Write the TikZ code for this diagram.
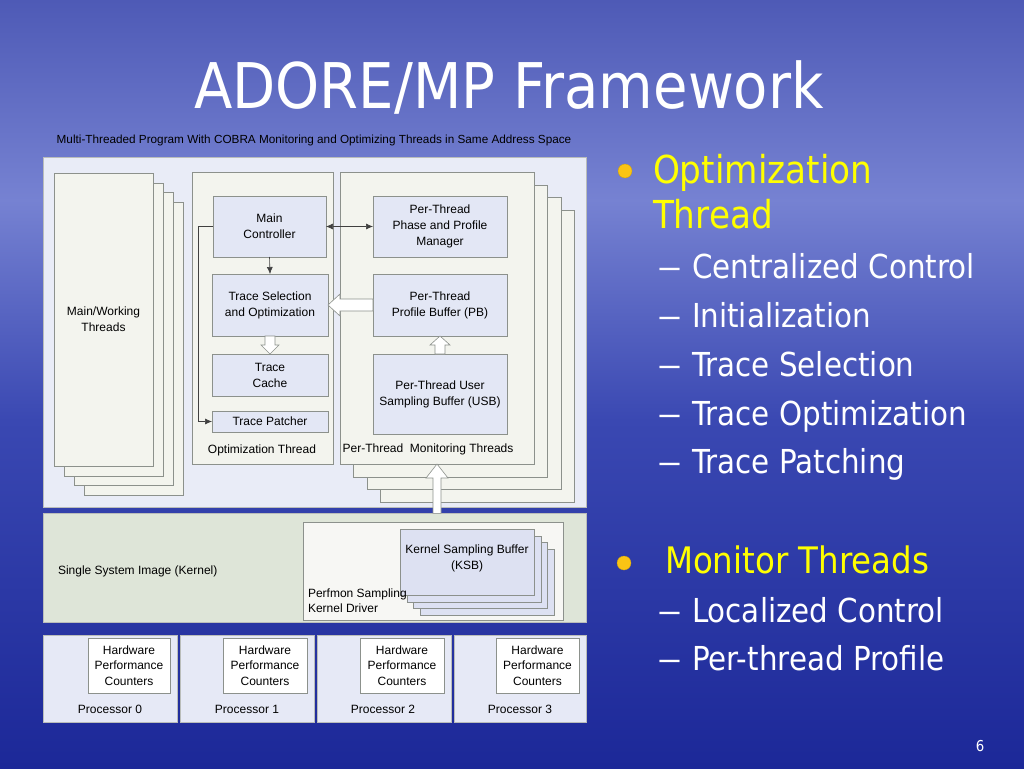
\documentclass[tikz,border=0pt]{standalone}
\usepackage{fontspec}
\usepackage{graphicx}
\setmainfont{Liberation Sans}
\newfontfamily\tah[FakeStretch=0.89]{DejaVu Sans}
\usetikzlibrary{calc,arrows.meta}
\definecolor{bgA}{RGB}{78,90,182}
\definecolor{bgB}{RGB}{118,130,210}
\definecolor{bgC}{RGB}{58,72,178}
\definecolor{bgD}{RGB}{28,40,152}
\definecolor{panelc}{RGB}{233,236,247}
\definecolor{kernc}{RGB}{222,229,216}
\definecolor{threadc}{RGB}{243,244,238}
\definecolor{innerc}{RGB}{227,231,245}
\definecolor{ksbc}{RGB}{221,225,242}
\definecolor{procc}{RGB}{230,233,246}
\definecolor{drvc}{RGB}{247,247,244}
\definecolor{edgec}{RGB}{140,145,140}
\definecolor{yel}{RGB}{255,255,0}
\definecolor{bul}{RGB}{250,196,20}
\newcommand\sdash{\makebox[35pt][l]{\scalebox{1.7}[1]{–}}}
\begin{document}
\begin{tikzpicture}[x=1pt,y=-1pt,
  every node/.style={inner sep=0pt,outer sep=0pt},
  dtext/.style={font=\fontsize{12}{16}\selectfont,text=black,align=center},
  panel/.style={fill=panelc,draw=edgec!60,line width=0.4pt},
  thr/.style={fill=threadc,draw=edgec,line width=0.7pt,dtext},
  inbox/.style={fill=innerc,draw=edgec,line width=0.7pt,dtext},
  ksbbox/.style={fill=ksbc,draw=edgec,line width=0.7pt,dtext},
  procbox/.style={fill=procc,draw=edgec!60,line width=0.4pt},
  hpcbox/.style={fill=white,draw=edgec,line width=0.7pt,dtext,font=\fontsize{12}{15.5}\selectfont},
  arr/.style={draw=black!75,line width=0.6pt,-{Latex[length=7pt,width=6pt]}},
  darr/.style={draw=black!75,line width=0.6pt,{Latex[length=7pt,width=6pt]}-{Latex[length=7pt,width=6pt]}},
  hollow/.style={draw=edgec,fill=white,line width=0.6pt,line join=miter},
  big/.style={text=white,font=\tah\fontsize{33}{40}\selectfont,anchor=base west},
  head/.style={text=yel,font=\tah\fontsize{38.5}{45}\selectfont,anchor=base west},
  bulletdot/.style={circle,fill=bul,draw=bul!80!black,line width=0.3pt,minimum size=14pt}
]
\useasboundingbox (0,0) rectangle (1024,768);
% background
\shade[top color=bgA,bottom color=bgB] (0,0) rectangle (1024,200.5);
\shade[top color=bgB,bottom color=bgC] (0,200) rectangle (1024,420.5);
\shade[top color=bgC,bottom color=bgD] (0,420) rectangle (1024,768);

% title
\node[text=white,font=\tah\fontsize{63}{70}\selectfont,anchor=base] (title) at (509,108) {ADORE/MP Framework};

% caption
\node[dtext,font=\fontsize{11.75}{16}\selectfont] (cap) at (314,140) {Multi-Threaded Program With COBRA Monitoring and Optimizing Threads in Same Address Space};

% top panel
\node[panel,minimum width=543pt,minimum height=350pt] (top) at (314.5,332) {};

% main/working stack
\node[thr,minimum width=99pt,minimum height=293pt] (mw3) at (133.5,348.5) {};
\node[thr,minimum width=99pt,minimum height=293pt] (mw2) at (123.5,338.5) {};
\node[thr,minimum width=99pt,minimum height=293pt] (mw1) at (113.5,329.5) {};
\node[thr,minimum width=99pt,minimum height=293pt] (mw) at (103.5,319.5) {Main/Working\\Threads};

% optimization thread
\node[thr,minimum width=141pt,minimum height=292pt] (opt) at (262.5,318) {};
\node[inbox,minimum width=113pt,minimum height=61pt] (mc) at (269.5,226.5) {Main\\Controller};
\node[inbox,minimum width=116pt,minimum height=62pt] (tso) at (270,305) {Trace Selection\\and Optimization};
\node[inbox,minimum width=116pt,minimum height=42pt] (tc) at (270,375) {Trace\\Cache};
\node[inbox,minimum width=116pt,minimum height=21pt] (tp) at (270,421.5) {Trace Patcher};
\node[dtext] (optl) at (262,450) {Optimization Thread};

% monitoring stack
\node[thr,minimum width=194pt,minimum height=292pt] (mon3) at (477,356) {};
\node[thr,minimum width=194pt,minimum height=292pt] (mon2) at (464,343) {};
\node[thr,minimum width=194pt,minimum height=292pt] (mon1) at (450,331) {};
\node[thr,minimum width=194pt,minimum height=292pt] (mon) at (437,318) {};
\node[inbox,minimum width=134pt,minimum height=61pt] (ppm) at (440,226.5) {Per-Thread\\Phase and Profile\\Manager};
\node[inbox,minimum width=134pt,minimum height=62pt] (pb) at (440,305) {Per-Thread\\Profile Buffer (PB)};
\node[inbox,minimum width=134pt,minimum height=80pt] (usb) at (440,394) {Per-Thread User\\Sampling Buffer (USB)};
\node[dtext] (monl) at (428,449) {Per-Thread\ \ Monitoring Threads};

% connectors in optimization thread
\draw[arr] (mc.south) -- (tso.north);
\draw[darr] (mc.east) -- (ppm.west);
\draw[arr] (mc.west) -- ++(-15,0) |- (tp.west);
% hollow arrows
\draw[hollow] ($(tso.south)+(-5,0)$) -- ($(tc.north)+(-5,-9)$) -- ($(tc.north)+(-9,-9)$) -- (tc.north)
  -- ($(tc.north)+(9,-9)$) -- ($(tc.north)+(5,-9)$) -- ($(tso.south)+(5,0)$) -- cycle;
\draw[hollow] ($(usb.north)+(-5,0)$) -- ($(pb.south)+(-5,9)$) -- ($(pb.south)+(-10,9)$) -- (pb.south)
  -- ($(pb.south)+(10,9)$) -- ($(pb.south)+(5,9)$) -- ($(usb.north)+(5,0)$) -- cycle;
\draw[hollow] ($(pb.west)+(0,-6)$) -- ($(tso.east)+(12,-6)$) -- ($(tso.east)+(12,-11)$) -- (tso.east)
  -- ($(tso.east)+(12,11)$) -- ($(tso.east)+(12,6)$) -- ($(pb.west)+(0,6)$) -- cycle;

% kernel panel
\node[panel,fill=kernc,minimum width=543pt,minimum height=109pt] (kern) at (314.5,567.5) {};
\coordinate (kfoot) at ($(mon.south |- kern.north)+(0,0.3)$);
\draw[hollow] ($(kfoot)+(-4,0)$) -- ($(mon.south)+(-4,14)$) -- ($(mon.south)+(-11,14)$) -- (mon.south)
  -- ($(mon.south)+(11,14)$) -- ($(mon.south)+(4,14)$) -- ($(kfoot)+(4,0)$) -- cycle;
\node[dtext,anchor=west] (ssi) at (58,571) {Single System Image (Kernel)};
\node[fill=drvc,draw=edgec,line width=0.7pt,minimum width=260pt,minimum height=98pt] (drv) at (433,571) {};
\node[ksbbox,minimum width=134pt,minimum height=66pt] (ksb3) at (487,582) {};
\node[ksbbox,minimum width=134pt,minimum height=66pt] (ksb2) at (480,575) {};
\node[ksbbox,minimum width=134pt,minimum height=66pt] (ksb1) at (474,569) {};
\node[ksbbox,minimum width=134pt,minimum height=66pt] (ksb) at (467,562) {};
\node[dtext] (ksbt) at (467,558.5) {Kernel Sampling Buffer\\(KSB)};
\node[dtext,align=left,anchor=west,font=\fontsize{12}{15}\selectfont] (drvl) at (308,601) {Perfmon Sampling\\Kernel Driver};

% processors
\node[procbox,minimum width=134pt,minimum height=87pt] (p0) at (110,678.5) {};
\node[procbox,minimum width=134pt,minimum height=87pt] (p1) at (247,678.5) {};
\node[procbox,minimum width=134pt,minimum height=87pt] (p2) at (384,678.5) {};
\node[procbox,minimum width=132pt,minimum height=87pt] (p3) at (520,678.5) {};
\node[hpcbox,minimum width=82pt,minimum height=55pt] (h0) at (129,665.5) {Hardware\\Performance\\Counters};
\node[hpcbox,minimum width=84pt,minimum height=55pt] (h1) at (265,665.5) {Hardware\\Performance\\Counters};
\node[hpcbox,minimum width=84pt,minimum height=55pt] (h2) at (402,665.5) {Hardware\\Performance\\Counters};
\node[hpcbox,minimum width=83pt,minimum height=55pt] (h3) at (537.5,665.5) {Hardware\\Performance\\Counters};
\node[dtext] (l0) at (110,709) {Processor 0};
\node[dtext] (l1) at (247,709) {Processor 1};
\node[dtext] (l2) at (383,709) {Processor 2};
\node[dtext] (l3) at (520,709) {Processor 3};

% right-hand bullets
\node[bulletdot] (b1) at (625,171) {};
\node[head] (o1) at (653,183) {Optimization};
\node[head] (o2) at (653,228) {Thread};
\node[big] (s1) at (657,278) {\sdash Centralized Control};
\node[big] (s2) at (657,327) {\sdash Initialization};
\node[big] (s3) at (657,376) {\sdash Trace Selection};
\node[big] (s4) at (657,425) {\sdash Trace Optimization};
\node[big] (s5) at (657,473) {\sdash Trace Patching};
\node[bulletdot] (b2) at (624,563) {};
\node[head,font=\tah\fontsize{36.5}{44}\selectfont] (m1) at (665,573) {Monitor Threads};
\node[big] (t1) at (657,622) {\sdash Localized Control};
\node[big] (t2) at (657,670) {\sdash Per-thread Profile};
\node[text=white,font=\tah\fontsize{15}{18}\selectfont] (pg) at (980,746) {6};
\end{tikzpicture}
\end{document}
